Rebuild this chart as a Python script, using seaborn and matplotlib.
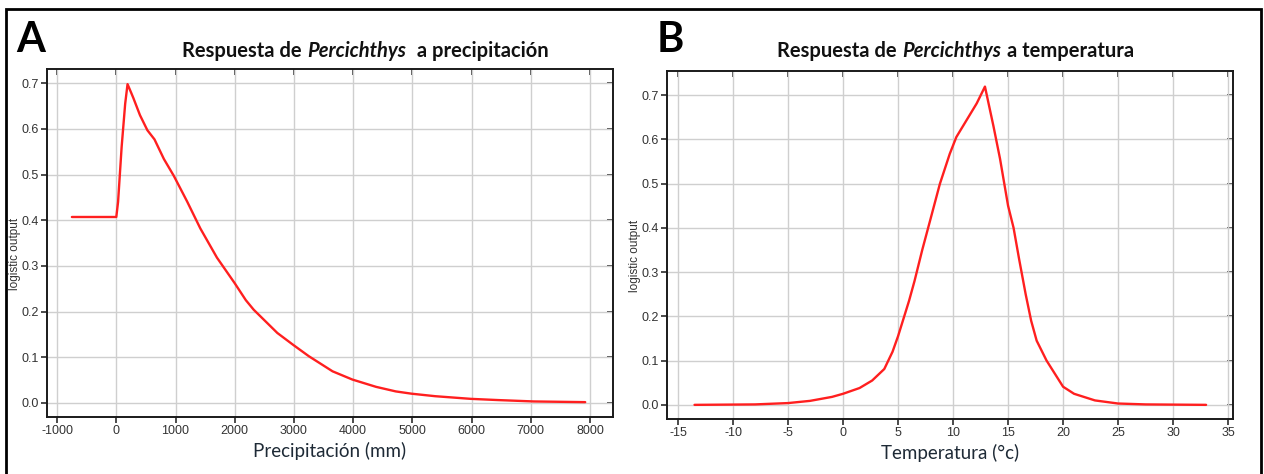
import pandas as pd
import seaborn as sns
import matplotlib.pyplot as plt
from matplotlib.offsetbox import TextArea, HPacker, AnnotationBbox
from matplotlib.patches import Rectangle

# Response curve (precipitation, mm)
precip_mm = [-750, 0, 30, 90, 150, 190, 255, 290, 400, 525, 645, 804, 972, 1196,
             1419, 1700, 2000, 2187, 2320, 2720, 2987, 3253, 3653, 3987, 4387,
             4720, 4987, 5387, 5987, 6453, 7053, 7920]
precip_resp = [0.407, 0.407, 0.44, 0.56, 0.655, 0.698, 0.678, 0.667, 0.63, 0.597,
               0.577, 0.534, 0.497, 0.441, 0.382, 0.318, 0.262, 0.225, 0.204, 0.153,
               0.127, 0.102, 0.069, 0.051, 0.035, 0.025, 0.020, 0.0145, 0.0087,
               0.006, 0.003, 0.0015]

# Response curve (temperature, C)
temp_c = [-13.5, -8, -5, -3, -1, 0, 1.5, 2.65, 3.75, 4.5, 5, 5.5, 6, 6.5, 7.2, 7.9,
          8.8, 9.7, 10.3, 12.15, 12.9, 13.67, 14.27, 15.0, 15.5, 16.0, 16.6, 17.1,
          17.6, 18.5, 20, 21, 22.9, 25, 27.5, 33]
temp_resp = [0.0, 0.001, 0.004, 0.009, 0.018, 0.025, 0.038, 0.055, 0.081, 0.12,
             0.155, 0.195, 0.235, 0.28, 0.35, 0.415, 0.499, 0.567, 0.605, 0.681,
             0.719, 0.63, 0.556, 0.45, 0.40, 0.33, 0.25, 0.19, 0.145, 0.10, 0.041,
             0.025, 0.010, 0.003, 0.001, 0.0]

precip_ticks = [-1000, 0, 1000, 2000, 3000, 4000, 5000, 6000, 7000, 8000]
temp_ticks = [-15, -10, -5, 0, 5, 10, 15, 20, 25, 30, 35]
resp_ticks = [0.0, 0.1, 0.2, 0.3, 0.4, 0.5, 0.6, 0.7]

sns.set_style('white')
plt.rcParams['font.family'] = ['Liberation Sans', 'DejaVu Sans']

fig = plt.figure(figsize=(12.64, 4.74), dpi=100)
ax1 = fig.add_axes([0.0372, 0.1203, 0.4478, 0.734])
ax2 = fig.add_axes([0.5277, 0.116, 0.4478, 0.734])

df_p = pd.DataFrame({'precip': precip_mm, 'resp': precip_resp})
df_t = pd.DataFrame({'temp': temp_c, 'resp': temp_resp})
sns.lineplot(data=df_p, x='precip', y='resp', ax=ax1, color='#ff1f1f', linewidth=1.7)
sns.lineplot(data=df_t, x='temp', y='resp', ax=ax2, color='#ff1f1f', linewidth=1.7)


def style_panel(ax, xticks, xlim, ylim, xlabel):
    ax.set_xlim(xlim)
    ax.set_ylim(ylim)
    ax.set_xticks(xticks)
    ax.set_yticks(resp_ticks)
    ax.set_xticklabels([str(t) for t in xticks])
    ax.set_yticklabels(['%.1f' % t for t in resp_ticks])
    ax.grid(True, color='#cfcfcf', linewidth=1.0)
    ax.set_axisbelow(True)
    for s in ax.spines.values():
        s.set_color('#1a1a1a')
        s.set_linewidth(1.4)
    ax.tick_params(axis='both', direction='out', length=4, width=1.1,
                   bottom=True, left=True, color='#1a1a1a',
                   labelsize=9, labelcolor='#333333', pad=2)
    # inward ticks on top and right
    top = ax.secondary_xaxis('top')
    top.set_xticks(xticks)
    top.tick_params(direction='in', length=4, width=1.1, top=True,
                    labeltop=False, color='#1a1a1a')
    top.spines['top'].set_visible(False)
    right = ax.secondary_yaxis('right')
    right.set_yticks(resp_ticks)
    right.tick_params(direction='in', length=4, width=1.1, right=True,
                      labelright=False, color='#1a1a1a')
    right.spines['right'].set_visible(False)
    ax.set_xlabel(xlabel, fontsize=13.5, family=['Lato', 'DejaVu Sans'],
                  color='#1e2a36', labelpad=3)
    ax.set_ylabel('logistic output', fontsize=8.5, color='#333333')
    ax.yaxis.set_label_coords(-0.046, 0.47)


style_panel(ax1, precip_ticks, (-1170, 8390), (-0.031, 0.731), 'Precipitación (mm)')
style_panel(ax2, temp_ticks, (-16, 35.45), (-0.032, 0.754), 'Temperatura (°c)')


def rich_title(ax, rest, xfig, yfig):
    bold = dict(fontsize=14.5, fontweight='bold', family=['Lato', 'DejaVu Sans'], color='#111111')
    ital = dict(bold, fontstyle='italic')
    pack = HPacker(children=[TextArea('Respuesta de', textprops=bold),
                             TextArea('Percichthys', textprops=ital),
                             TextArea(rest, textprops=bold)],
                   sep=4, pad=0, align='baseline')
    ab = AnnotationBbox(pack, (xfig, yfig), xycoords='figure fraction',
                        frameon=False, box_alignment=(0.5, 0.5), annotation_clip=False)
    ax.add_artist(ab)


rich_title(ax1, ' a precipitación', 0.289, 0.893)
rich_title(ax2, 'a temperatura', 0.756, 0.893)

fig.text(0.024, 0.915, 'A', fontsize=30, fontweight='bold', ha='center', va='center',
         family=['Lato', 'DejaVu Sans'], color='black')
fig.text(0.530, 0.915, 'B', fontsize=30, fontweight='bold', ha='center', va='center',
         family=['Lato', 'DejaVu Sans'], color='black')

fig.add_artist(Rectangle((0.0047, -0.02), 0.993, 1.001, transform=fig.transFigure,
                         fill=False, edgecolor='black', linewidth=2))

fig.savefig('out.png', dpi=100)
